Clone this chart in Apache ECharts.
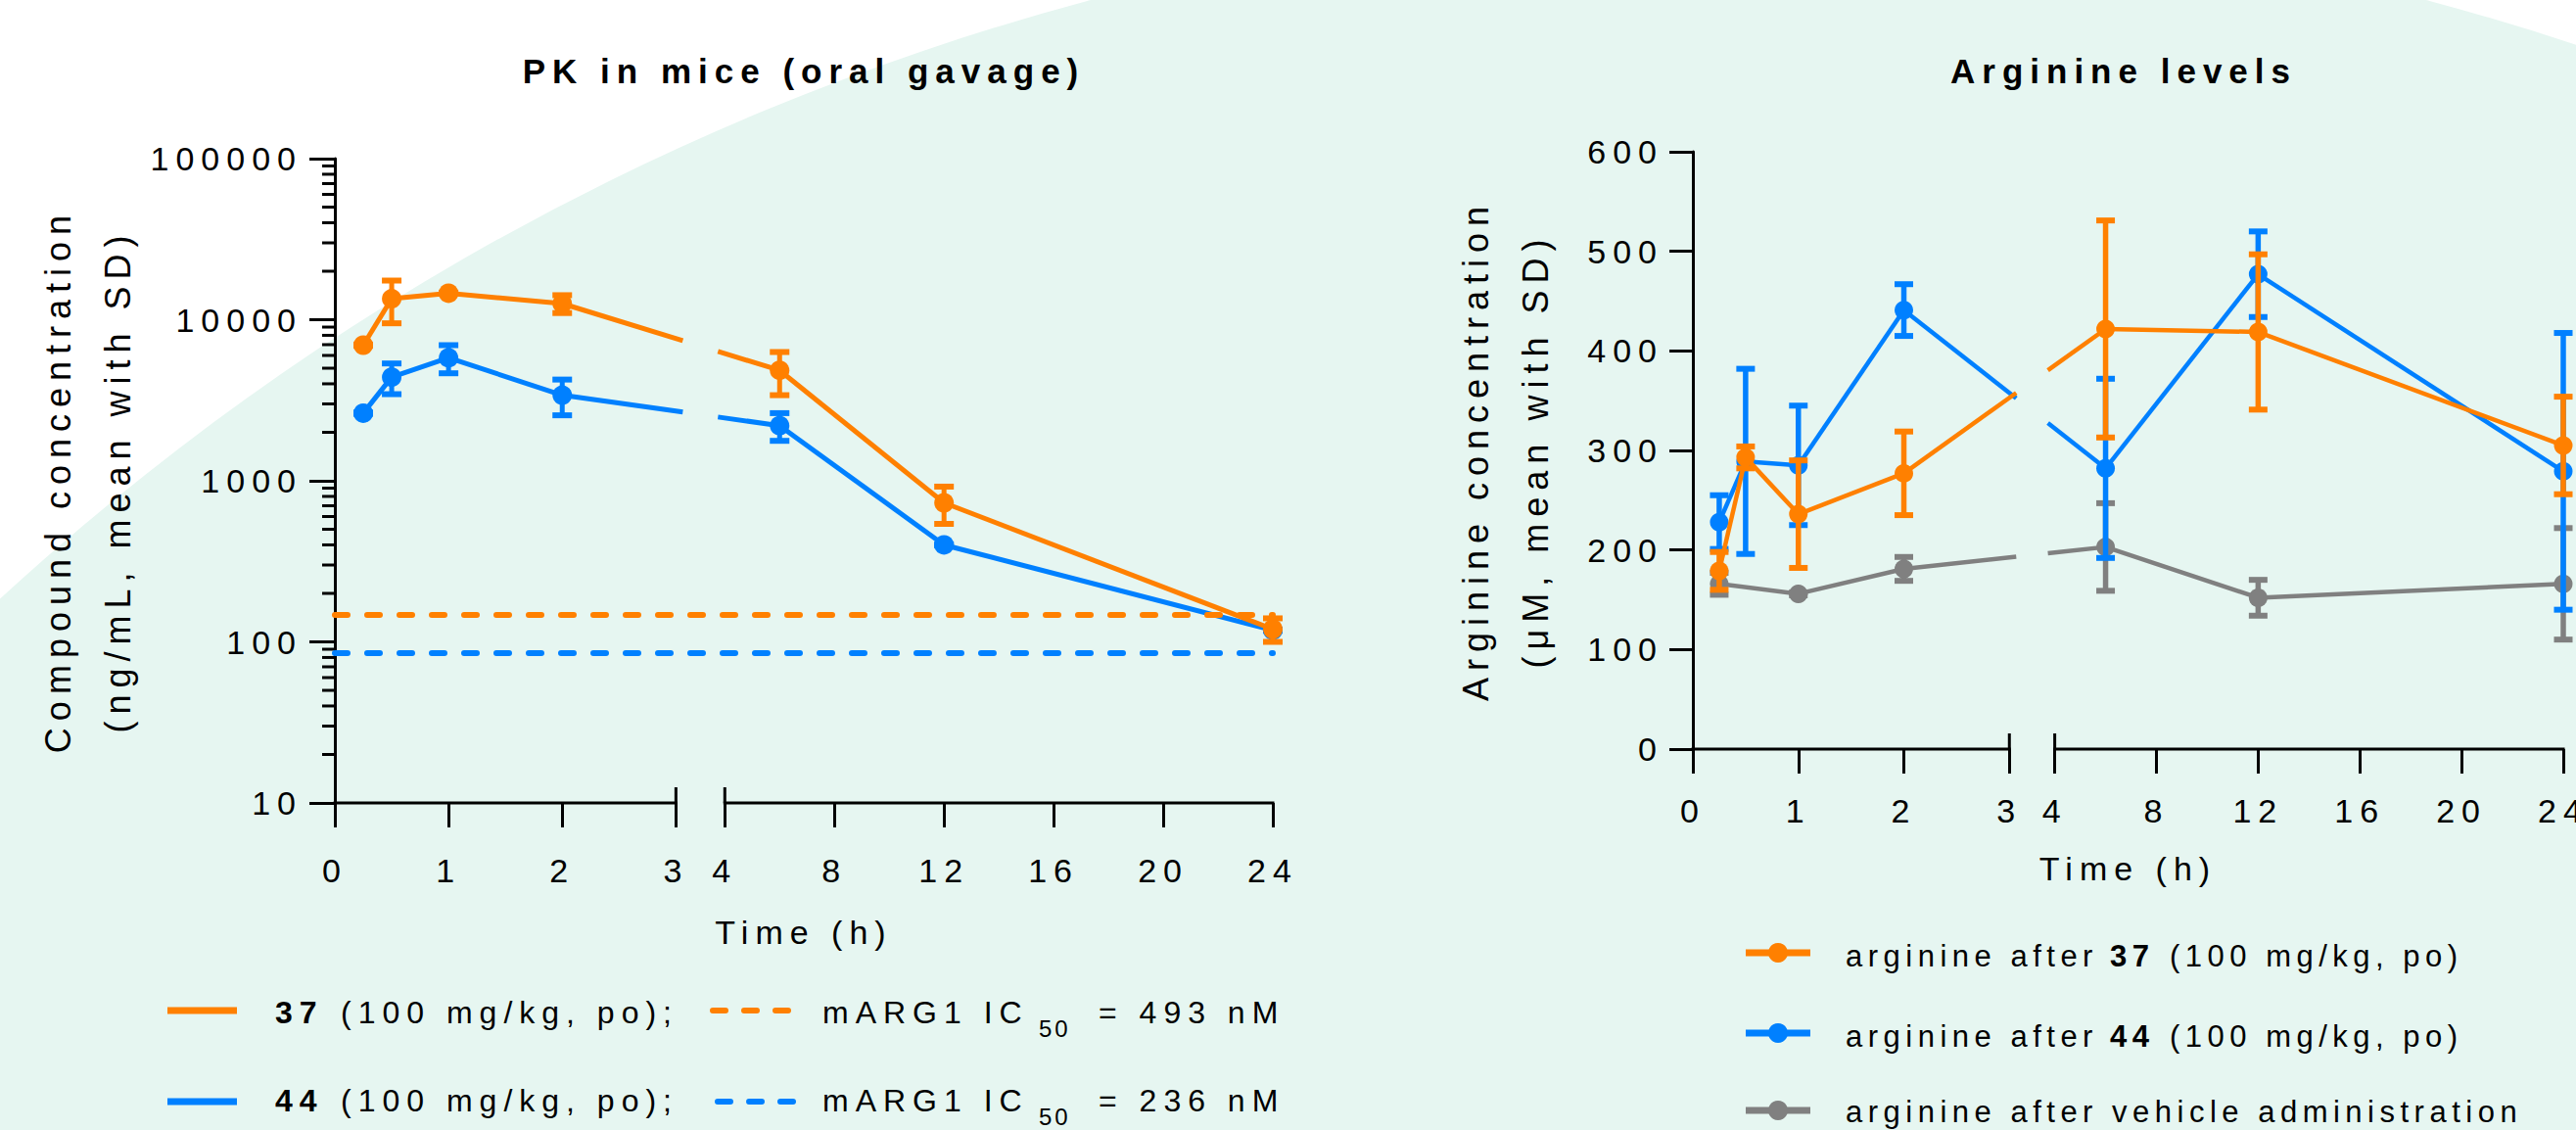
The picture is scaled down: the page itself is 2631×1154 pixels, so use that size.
<!DOCTYPE html>
<html>
<head>
<meta charset="utf-8">
<script src="https://cdn.jsdelivr.net/npm/echarts@6/dist/echarts.min.js"></script>
<style>
html,body{margin:0;padding:0;background:#ffffff;}
#chart{width:2631px;height:1154px;}
#chart svg text{letter-spacing:7px;}
#chart svg text[style*="31px"]{letter-spacing:5.5px;}
#chart svg text[style*="24px"]{letter-spacing:3px;}
</style>
</head>
<body>
<div id="chart"></div>
<script>
// ---------------- DATA ----------------
// Left panel: PK in mice (oral gavage), compound concentration (ng/mL, mean with SD)
const pkTimes = [0.25, 0.5, 1, 2, 6, 12, 24];
const pk37Mean = [6950, 13500, 14600, 12600, 4850, 730, 120];
const pk37SD   = [70, 4000, 150, 1600, 1450, 190, 20];
const pk44Mean = [2630, 4400, 5800, 3400, 2200, 400, 118];
const pk44SD   = [25, 950, 1150, 850, 430, 4, 1];
const ic50Line37 = 147;   // mARG1 IC50 = 493 nM
const ic50Line44 = 86;    // mARG1 IC50 = 236 nM
const pkMinorTicks = [20,30,40,50,60,70,80,90, 200,300,400,500,600,700,800,900,
  2000,3000,4000,5000,6000,7000,8000,9000, 20000,30000,40000,50000,60000,70000,80000,90000];

// Right panel: arginine levels (µM, mean with SD)
const argTimes   = [0.25, 0.5, 1, 2, 6, 12, 24];
const arg37Mean  = [179, 293, 236, 277, 422, 419, 305];
const arg37SD    = [19, 11, 54, 42, 109, 78, 49];
const arg44Mean  = [228, 289, 285, 441, 282, 477, 279];
const arg44SD    = [27, 93, 60, 26, 90, 43, 139];
const vehTimes   = [0.25, 1, 2, 6, 12, 24];
const vehMean    = [166, 156, 181, 203, 152, 166];
const vehSD      = [11, 1.5, 12, 44, 18, 56];

// Axis ticks
const xTickHours  = [0, 1, 2, 3, 4, 8, 12, 16, 20, 24];
const xTickLabels = ['0', '1', '2', '3', '4', '8', '12', '16', '20', '24'];

// ---------------- STYLE / SCALE ----------------
const FONT = "'Liberation Sans', Arial, Helvetica, sans-serif";
const ORANGE = '#FF8000', BLUE = '#0080FF', GRAY = '#808080', MINT = '#E6F6F1';
// broken time axis: 0-3 h and 4-24 h segments, the second compressed
const BREAK_END = 3, BREAK_START = 4, BREAK_GAP = 0.43, RIGHT_RATIO = 0.241;
function brokenX(t) { return t <= BREAK_END ? t : BREAK_END + BREAK_GAP + (t - BREAK_START) * RIGHT_RATIO; }
const X_END = xTickHours[xTickHours.length - 1];
const X_MAX = brokenX(X_END);
const xTickPos = xTickHours.map(brokenX);
function fmtX(v) {
  for (let i = 0; i < xTickPos.length; i++) if (Math.abs(xTickPos[i] - v) < 1e-6) return xTickLabels[i];
  return '';
}

function seg(x1, y1, x2, y2, color, w, cap) {
  return { type: 'line', shape: { x1, y1, x2, y2 }, style: { stroke: color, lineWidth: w, lineCap: cap || 'butt' } };
}

function dataSeries(name, gi, times, means, sds, color, st, z) {
  return {
    type: 'custom', name, coordinateSystem: 'cartesian2d', xAxisIndex: gi, yAxisIndex: gi,
    z, clip: false, silent: true,
    data: times.map((t, i) => [t, means[i], sds[i]]),
    encode: { x: 0, y: 1 },
    renderItem(params, api) {
      const i = params.dataIndex;
      const t = api.value(0), m = api.value(1), s = api.value(2);
      const X = brokenX(t);
      const p = api.coord([X, m]);
      const kids = [];
      if (i > 0) {
        const tp = times[i - 1];
        const q = api.coord([brokenX(tp), means[i - 1]]);
        if (tp <= BREAK_END && t >= BREAK_START) {
          const xa = api.coord([BREAK_END, m])[0] + st.inset;
          const xb = api.coord([brokenX(BREAK_START), m])[0] - st.inset;
          const yAt = x => q[1] + (p[1] - q[1]) * (x - q[0]) / (p[0] - q[0]);
          kids.push(seg(q[0], q[1], xa, yAt(xa), color, st.line));
          kids.push(seg(xb, yAt(xb), p[0], p[1], color, st.line));
        } else {
          kids.push(seg(q[0], q[1], p[0], p[1], color, st.line));
        }
      }
      const yt = api.coord([X, m + s])[1], yb = api.coord([X, m - s])[1];
      kids.push(seg(p[0], yt, p[0], yb, color, st.stem));
      kids.push(seg(p[0] - st.cap / 2, yt, p[0] + st.cap / 2, yt, color, st.capT));
      kids.push(seg(p[0] - st.cap / 2, yb, p[0] + st.cap / 2, yb, color, st.capT));
      kids.push({ type: 'circle', shape: { cx: p[0], cy: p[1], r: st.r }, style: { fill: color } });
      return { type: 'group', children: kids };
    }
  };
}

function axisBreakSeries(gi, yMin) {
  return {
    type: 'custom', coordinateSystem: 'cartesian2d', xAxisIndex: gi, yAxisIndex: gi,
    silent: true, clip: false, z: 3, data: [[0, yMin]],
    renderItem(params, api) {
      const c = t => api.coord([brokenX(t), yMin]);
      const a = c(0), b = c(BREAK_END), d = c(BREAK_START), e = c(X_END);
      return { type: 'group', children: [
        seg(a[0] - 1.5, a[1], b[0] + 1.5, b[1], '#000', 3),
        seg(d[0] - 1.5, d[1], e[0] + 1.5, e[1], '#000', 3),
        seg(b[0], b[1] - 16, b[0], b[1], '#000', 3),
        seg(d[0], d[1] - 16, d[0], d[1], '#000', 3)
      ] };
    }
  };
}

function ic50Series(value, color) {
  return {
    type: 'line', xAxisIndex: 0, yAxisIndex: 0, data: [], silent: true, z: 1,
    markLine: {
      silent: true, symbol: ['none', 'none'], label: { show: false }, animation: false,
      lineStyle: { color, width: 6, type: [13, 20], cap: 'round' },
      emphasis: { disabled: true },
      data: [{ yAxis: value }]
    }
  };
}

const leftStyle  = { line: 5, stem: 5, cap: 20, capT: 6, r: 10, inset: 7 };
const rightStyle = { line: 4.5, stem: 5.5, cap: 19, capT: 6, r: 9.5, inset: 7 };

function txt(text, x, y, size, opts) {
  opts = opts || {};
  const align = opts.align || 'left';
  return {
    type: 'text', x, y, z: 10, silent: true,
    style: {
      text, font: (opts.bold ? 'bold ' : '') + size + 'px ' + FONT, fill: '#000',
      align, verticalAlign: 'middle', textAlign: align, textVerticalAlign: 'middle'
    }
  };
}
function gLine(x1, x2, y, color, w, dash) {
  return { type: 'line', z: 10, silent: true, shape: { x1, y1: y, x2, y2: y },
    style: { stroke: color, lineWidth: w, lineDash: dash || null, lineCap: dash ? 'round' : 'butt' } };
}
function gDot(cx, cy, color) {
  return { type: 'circle', z: 10, silent: true, shape: { cx, cy, r: 10 }, style: { fill: color } };
}

const graphics = [
  { type: 'circle', z: -10, silent: true, shape: { cx: 1796, cy: 2563, r: 2652 }, style: { fill: MINT } },
  txt('PK in mice (oral gavage)', 821, 72, 35, { bold: true, align: 'center' }),
  txt('Arginine levels', 2169, 72, 35, { bold: true, align: 'center' }),
  // left legend
  gLine(171, 242, 1032, ORANGE, 7),
  txt('37', 281, 1034, 32, { bold: true }),
  txt('(100 mg/kg, po);', 348, 1034, 32),
  gLine(728, 805, 1032, ORANGE, 6, [13, 19]),
  txt('mARG1 IC', 840, 1034, 32),
  txt('50', 1061, 1050, 24),
  txt('= 493 nM', 1122, 1034, 32),
  gLine(171, 242, 1125, BLUE, 7),
  txt('44', 281, 1124, 32, { bold: true }),
  txt('(100 mg/kg, po);', 348, 1124, 32),
  gLine(733, 810, 1125, BLUE, 6, [13, 19]),
  txt('mARG1 IC', 840, 1124, 32),
  txt('50', 1061, 1140, 24),
  txt('= 236 nM', 1122, 1124, 32),
  // right legend
  gLine(1783, 1849, 973, ORANGE, 7), gDot(1816, 973, ORANGE),
  txt('arginine after', 1885, 976, 31),
  txt('37', 2155, 976, 31, { bold: true }),
  txt('(100 mg/kg, po)', 2216, 976, 31),
  gLine(1783, 1849, 1055, BLUE, 7), gDot(1816, 1055, BLUE),
  txt('arginine after', 1885, 1058, 31),
  txt('44', 2155, 1058, 31, { bold: true }),
  txt('(100 mg/kg, po)', 2216, 1058, 31),
  gLine(1783, 1849, 1134, GRAY, 7), gDot(1816, 1134, GRAY),
  txt('arginine after vehicle administration', 1885, 1135, 31)
];

function xAxisCfg(gi, margin, nameGap) {
  return {
    gridIndex: gi, type: 'value', min: 0, max: X_MAX,
    axisLine: { show: false }, splitLine: { show: false },
    axisTick: { show: true, length: 25, customValues: xTickPos, lineStyle: { color: '#000', width: 3 } },
    axisLabel: { show: true, customValues: xTickPos, formatter: fmtX, margin, fontSize: 34,
      fontFamily: FONT, color: '#000', hideOverlap: false, showMinLabel: true, showMaxLabel: true },
    name: 'Time (h)', nameLocation: 'middle', nameGap,
    nameTextStyle: { fontSize: 34, fontFamily: FONT, color: '#000' }
  };
}

const option = {
  animation: false,
  backgroundColor: '#ffffff',
  graphic: graphics,
  grid: [
    { left: 342, top: 162, width: 958, height: 658, containLabel: false, outerBoundsMode: 'none' },
    { left: 1729, top: 155, width: 889, height: 610, containLabel: false, outerBoundsMode: 'none' }
  ],
  xAxis: [xAxisCfg(0, 52, 115), xAxisCfg(1, 46, 105)],
  yAxis: [
    {
      gridIndex: 0, type: 'log', logBase: 10, min: 10, max: 100000,
      axisLine: { show: true, onZero: false, lineStyle: { color: '#000', width: 3 } },
      axisTick: { show: true, length: 26, lineStyle: { color: '#000', width: 3 } },
      axisLabel: { margin: 33, fontSize: 34, fontFamily: FONT, color: '#000', formatter: v => String(v) },
      splitLine: { show: false },
      name: 'Compound concentration\n(ng/mL, mean with SD)', nameLocation: 'middle', nameRotate: 90, nameGap: 191,
      nameTextStyle: { fontSize: 36, lineHeight: 61, fontFamily: FONT, color: '#000' }
    },
    {
      gridIndex: 1, type: 'value', min: 0, max: 600, interval: 100,
      axisLine: { show: true, onZero: false, lineStyle: { color: '#000', width: 3 } },
      axisTick: { show: true, length: 24, lineStyle: { color: '#000', width: 3 } },
      axisLabel: { margin: 30, fontSize: 34, fontFamily: FONT, color: '#000' },
      splitLine: { show: false },
      name: 'Arginine concentration\n(μM, mean with SD)', nameLocation: 'middle', nameRotate: 90, nameGap: 130,
      nameTextStyle: { fontSize: 36, lineHeight: 61, fontFamily: FONT, color: '#000' }
    }
  ],
  series: [
    ic50Series(ic50Line37, ORANGE),
    ic50Series(ic50Line44, BLUE),
    {
      type: 'custom', coordinateSystem: 'cartesian2d', xAxisIndex: 0, yAxisIndex: 0,
      silent: true, clip: false, z: 3, data: pkMinorTicks.map(v => [0, v]),
      renderItem(params, api) {
        const p = api.coord([0, api.value(1)]);
        return seg(p[0] - 13, p[1], p[0], p[1], '#000', 3);
      }
    },
    axisBreakSeries(0, 10),
    axisBreakSeries(1, 0),
    dataSeries('44 (100 mg/kg, po)', 0, pkTimes, pk44Mean, pk44SD, BLUE, leftStyle, 4),
    dataSeries('37 (100 mg/kg, po)', 0, pkTimes, pk37Mean, pk37SD, ORANGE, leftStyle, 5),
    dataSeries('arginine after vehicle administration', 1, vehTimes, vehMean, vehSD, GRAY, rightStyle, 4),
    dataSeries('arginine after 44 (100 mg/kg, po)', 1, argTimes, arg44Mean, arg44SD, BLUE, rightStyle, 5),
    dataSeries('arginine after 37 (100 mg/kg, po)', 1, argTimes, arg37Mean, arg37SD, ORANGE, rightStyle, 6)
  ]
};

const chart = echarts.init(document.getElementById('chart'), null, { renderer: 'svg', width: 2631, height: 1154 });
chart.setOption(option);
</script>
</body>
</html>
